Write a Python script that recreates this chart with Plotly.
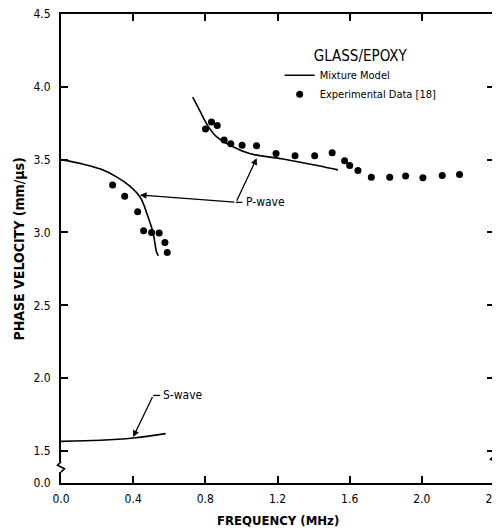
import plotly.graph_objects as go

# ---- data ----
p_lower_freq = [0.0, 0.12, 0.22, 0.31, 0.38, 0.44, 0.48, 0.51, 0.53, 0.54]
p_lower_vel = [3.50, 3.47, 3.435, 3.38, 3.32, 3.24, 3.115, 3.0, 2.865, 2.84]

p_upper_freq = [0.73, 0.77, 0.81, 0.86, 0.95, 1.05, 1.23, 1.42, 1.535]
p_upper_vel = [3.93, 3.835, 3.74, 3.66, 3.59, 3.54, 3.505, 3.46, 3.43]

s_freq = [0.0, 0.22, 0.40, 0.58]
s_vel = [1.566, 1.573, 1.589, 1.619]

exp_freq = [0.286, 0.353, 0.425, 0.458, 0.502, 0.544, 0.576, 0.589,
            0.801, 0.834, 0.866, 0.904, 0.941, 1.004, 1.084, 1.192, 1.297,
            1.406, 1.503, 1.572, 1.600, 1.646, 1.720, 1.822, 1.910, 2.006,
            2.113, 2.209]
exp_vel = [3.326, 3.248, 3.143, 3.012, 3.000, 2.996, 2.932, 2.863,
           3.710, 3.759, 3.734, 3.635, 3.610, 3.599, 3.596, 3.543, 3.527,
           3.527, 3.547, 3.493, 3.459, 3.425, 3.380, 3.380, 3.387, 3.375,
           3.391, 3.398]

x_tick_vals = [0.0, 0.4, 0.8, 1.2, 1.6, 2.0, 2.4]
x_tick_labels = ["0.0", "0.4", "0.8", "1.2", "1.6", "2.0", "2.4"]
# broken axis: the "0.0" label sits just below the break
y_break_floor = 1.28
y_tick_vals = [y_break_floor, 1.5, 2.0, 2.5, 3.0, 3.5, 4.0, 4.5]
y_tick_labels = ["0.0", "1.5", "2.0", "2.5", "3.0", "3.5", "4.0", "4.5"]

FONT = "DejaVu Sans Condensed"
LINE = dict(color="black", width=1.6)

fig = go.Figure()
fig.add_trace(go.Scatter(x=p_lower_freq, y=p_lower_vel, mode="lines",
                         line=dict(LINE, shape="spline"), name="Mixture Model",
                         showlegend=True, legendrank=1))
fig.add_trace(go.Scatter(x=p_upper_freq, y=p_upper_vel, mode="lines",
                         line=dict(LINE, shape="spline"), showlegend=False))
fig.add_trace(go.Scatter(x=s_freq, y=s_vel, mode="lines",
                         line=dict(LINE, shape="spline"), showlegend=False))
fig.add_trace(go.Scatter(x=exp_freq, y=exp_vel, mode="markers",
                         marker=dict(color="black", size=7),
                         name="Experimental Data [18]", legendrank=2))

ann_font = dict(family=FONT, size=12, color="black")
annotations = [
    # S-wave leader
    dict(x=0.40, y=1.596, ax=0.511, ay=1.881, axref="x", ayref="y",
         xref="x", yref="y", text="", showarrow=True, arrowhead=2,
         arrowsize=1, arrowwidth=1.3, arrowcolor="black"),
    dict(x=0.555, y=1.881, xref="x", yref="y", text="S-wave", showarrow=False,
         xanchor="left", yanchor="middle", font=ann_font),
    # P-wave leaders
    dict(x=0.438, y=3.257, ax=0.97, ay=3.207, axref="x", ayref="y",
         xref="x", yref="y", text="", showarrow=True, arrowhead=2,
         arrowsize=1, arrowwidth=1.3, arrowcolor="black"),
    dict(x=1.085, y=3.51, ax=0.97, ay=3.207, axref="x", ayref="y",
         xref="x", yref="y", text="", showarrow=True, arrowhead=2,
         arrowsize=1, arrowwidth=1.3, arrowcolor="black"),
    dict(x=1.015, y=3.207, xref="x", yref="y", text="P-wave", showarrow=False,
         xanchor="left", yanchor="middle", font=ann_font),
    # axis titles
    dict(x=0.5, y=-0.081, xref="paper", yref="paper", text="FREQUENCY (MHz)",
         showarrow=False, xanchor="center", yanchor="middle",
         font=dict(family=FONT, size=13, color="black", weight="bold")),
    dict(x=-0.097, y=0.5, xref="paper", yref="paper",
         text="PHASE VELOCITY (mm/\u03bcs)", textangle=-90,
         showarrow=False, xanchor="center", yanchor="middle",
         font=dict(family=FONT, size=14, color="black", weight="bold")),
]

shapes = [
    dict(type="line", xref="x", yref="y", x0=0.511, y0=1.881, x1=0.55, y1=1.881,
         line=dict(color="black", width=1.3)),
    dict(type="line", xref="x", yref="y", x0=0.97, y0=3.207, x1=1.005, y1=3.207,
         line=dict(color="black", width=1.3)),
]
# axis-break zigzags on the left and right axes
for xp, yc in [(0.0, 1.39), (1.0, 1.43)]:
    shapes.append(dict(type="line", xref="paper", yref="y", x0=xp, x1=xp,
                       y0=yc - 0.035, y1=yc + 0.035,
                       line=dict(color="white", width=4)))
    shapes.append(dict(type="path", xref="paper", yref="y",
                       path=(f"M {xp} {yc + 0.035} L {xp - 0.008} {yc + 0.012} "
                             f"L {xp + 0.008} {yc - 0.012} L {xp} {yc - 0.035}"),
                       line=dict(color="black", width=1.6)))

# the page body adds an 8px offset, so the figure is sized/placed to compensate
fig.update_layout(
    width=492, height=523,
    margin=dict(l=53, r=6, t=6, b=48, autoexpand=False),
    paper_bgcolor="white", plot_bgcolor="white",
    font=dict(family=FONT, size=12, color="black"),
    annotations=annotations,
    shapes=shapes,
    showlegend=True,
    legend=dict(x=0.505, y=0.942, xanchor="left", yanchor="top",
                bgcolor="rgba(0,0,0,0)", itemwidth=30,
                font=dict(family=FONT, size=11, color="black"),
                title=dict(text="GLASS/EPOXY", side="top center",
                           font=dict(family=FONT, size=15, color="black")),
                tracegroupgap=0),
    xaxis=dict(range=[0, 2.4], tickvals=x_tick_vals, ticktext=x_tick_labels,
               showgrid=False, zeroline=False, showline=True, linecolor="black",
               linewidth=2, mirror="ticks", ticks="inside", ticklen=7,
               tickwidth=1.5, tickcolor="black", ticklabelstandoff=4,
               ticklabeloverflow="allow", automargin=False,
               tickfont=dict(family=FONT, size=12, color="black")),
    yaxis=dict(range=[y_break_floor, 4.5], tickvals=y_tick_vals,
               ticktext=y_tick_labels, showgrid=False, zeroline=False,
               showline=True, linecolor="black", linewidth=2, mirror="ticks",
               ticks="inside", ticklen=7, tickwidth=1.5, tickcolor="black",
               ticklabelstandoff=6, ticklabeloverflow="allow", automargin=False,
               tickfont=dict(family=FONT, size=12, color="black")),
)

fig.write_html("out.html")
